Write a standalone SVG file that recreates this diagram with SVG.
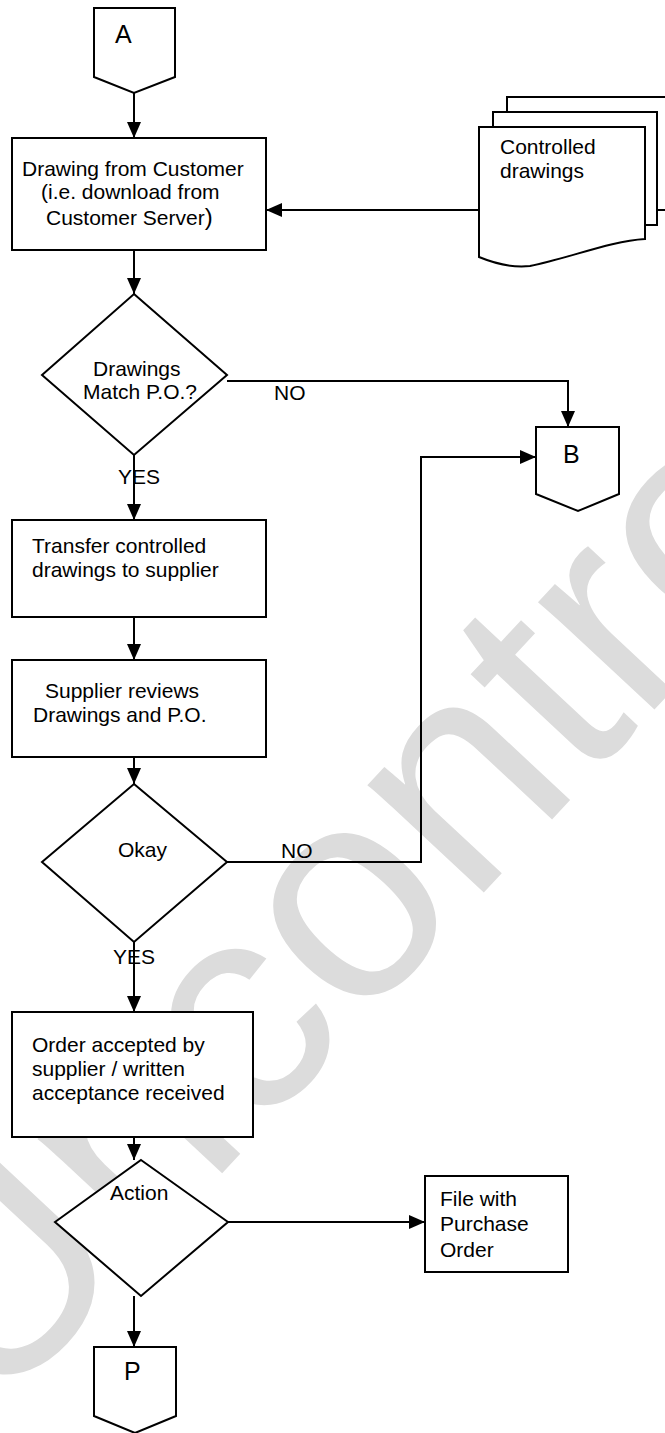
<svg xmlns="http://www.w3.org/2000/svg" width="665" height="1433" viewBox="0 0 665 1433">
  <defs>
    <marker id="arrow" markerUnits="userSpaceOnUse" markerWidth="16" markerHeight="16" viewBox="0 0 16 16" refX="16" refY="8" orient="auto">
      <path d="M0,1 L16,8 L0,15 Z" fill="#000"/>
    </marker>
  </defs>
  <style>
    .shape { fill: #fff; stroke: #000; stroke-width: 2; }
    .line { fill: none; stroke: #000; stroke-width: 2; }
    .arrow { fill: none; stroke: #000; stroke-width: 2; marker-end: url(#arrow); }
    text { font-family: "Liberation Sans", Arial, sans-serif; font-size: 21px; fill: #000; }
    .big { font-size: 25px; }
    .mark { font-size: 300px; fill: #dcdcdc; }
  </style>

  <rect width="665" height="1433" fill="#fff"/>

  <!-- background watermark -->
  <g id="watermark">
    <text class="mark" x="0" y="0" transform="translate(-8,1420) rotate(-47)">Uncontrolled</text>
  </g>

  <!-- connectors -->
  <g id="connectors">
    <path class="arrow" d="M134,93 V138"/>
    <path class="arrow" d="M479,210 H266"/>
    <path class="arrow" d="M134,250 V294"/>
    <path class="arrow" d="M227,381 H568 V427"/>
    <path class="arrow" d="M134,455 V520"/>
    <path class="arrow" d="M134,617 V660"/>
    <path class="arrow" d="M134,757 V784"/>
    <path class="arrow" d="M227,862 H421 V457 H536"/>
    <path class="arrow" d="M134,942 V1012"/>
    <path class="arrow" d="M134,1137 V1160"/>
    <path class="arrow" d="M228,1222 H425"/>
    <path class="arrow" d="M134,1296 V1347"/>
  </g>

  <!-- off-page connector A -->
  <g id="conn-a">
    <polygon class="shape" points="94,8 175,8 175,77 134,93 94,77"/>
    <text class="big" x="115" y="43">A</text>
  </g>

  <!-- stacked documents -->
  <g id="controlled-drawings">
    <path class="shape" d="M507,97 H668 V210 H507 Z"/>
    <path class="shape" d="M493,112 H657 V225 H493 Z"/>
    <path class="shape" d="M479,127 H645 V239 C610,241 570,258 530,266 C512,268 496,264 479,257 Z"/>
    <text x="500" y="154">Controlled</text>
    <text x="500" y="178">drawings</text>
  </g>

  <g id="drawing-from-customer">
    <rect class="shape" x="12" y="138" width="254" height="112"/>
    <text x="22" y="176">Drawing from Customer</text>
    <text x="41" y="199">(i.e. download from</text>
    <text x="46" y="225">Customer Server<tspan font-size="24px">)</tspan></text>
  </g>

  <g id="match-po">
    <polygon class="shape" points="134,294 227,375 134,455 42,375"/>
    <text x="93" y="376">Drawings</text>
    <text x="83" y="399">Match P.O.?</text>
  </g>
  <text x="274" y="400">NO</text>
  <text x="118" y="484">YES</text>

  <!-- off-page connector B -->
  <g id="conn-b">
    <polygon class="shape" points="536,427 619,427 619,494 578,511 536,494"/>
    <text class="big" x="563" y="463">B</text>
  </g>

  <g id="transfer">
    <rect class="shape" x="12" y="520" width="254" height="97"/>
    <text x="32" y="553">Transfer controlled</text>
    <text x="32" y="577">drawings to supplier</text>
  </g>

  <g id="supplier-review">
    <rect class="shape" x="12" y="660" width="254" height="97"/>
    <text x="45" y="698">Supplier reviews</text>
    <text x="33" y="722">Drawings and P.O.</text>
  </g>

  <g id="okay">
    <polygon class="shape" points="134,784 227,862 134,942 42,862"/>
    <text x="118" y="857">Okay</text>
  </g>
  <text x="281" y="858">NO</text>
  <text x="113" y="964">YES</text>

  <g id="order-accepted">
    <rect class="shape" x="12" y="1012" width="241" height="125"/>
    <text x="32" y="1052">Order accepted by</text>
    <text x="32" y="1076">supplier / written</text>
    <text x="32" y="1100">acceptance received</text>
  </g>

  <g id="action">
    <polygon class="shape" points="141,1160 228,1222 141,1296 55,1222"/>
    <text x="110" y="1200">Action</text>
  </g>

  <g id="file-po">
    <rect class="shape" x="425" y="1176" width="143" height="96"/>
    <text x="440" y="1206">File with</text>
    <text x="440" y="1231">Purchase</text>
    <text x="440" y="1257">Order</text>
  </g>

  <!-- off-page connector P -->
  <g id="conn-p">
    <polygon class="shape" points="94,1347 176,1347 176,1416 135,1433 94,1416"/>
    <text class="big" x="124" y="1380">P</text>
  </g>
</svg>
